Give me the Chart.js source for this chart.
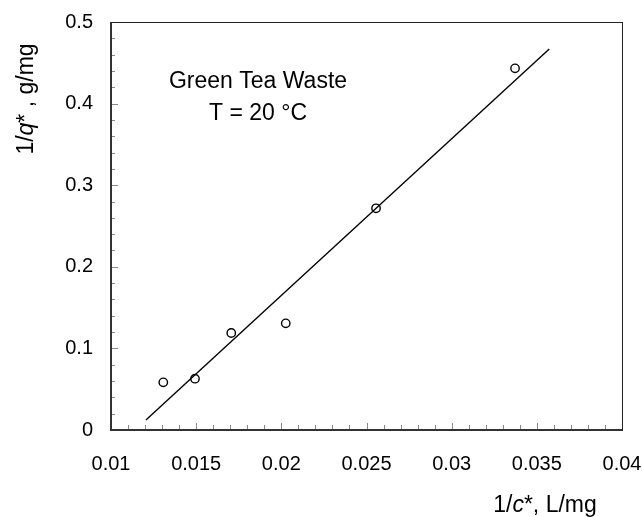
<!DOCTYPE html>
<html>
<head>
<meta charset="utf-8">
<script src="https://cdn.jsdelivr.net/npm/chart.js@4"></script>
<style>
  html, body { margin: 0; padding: 0; background: #fff; }
  #wrap { width: 642px; height: 517px; }
</style>
</head>
<body>
<div id="wrap"><canvas id="isoChart" width="642" height="517"></canvas></div>
<script>
// measured points (1/c*, 1/q*)
const invC = [0.01307, 0.01493, 0.01706, 0.02026, 0.02556, 0.03372];
const invQ = [0.0584, 0.0629, 0.1189, 0.1307, 0.2717, 0.4432];

// fitted line ends
const fitX = [0.01205, 0.03573];
const fitY = [0.0123, 0.4669];

const xTicks = [0.01, 0.015, 0.02, 0.025, 0.03, 0.035, 0.04];
const yTicks = [0, 0.1, 0.2, 0.3, 0.4, 0.5];

const FONT = 'Arial, "Liberation Sans", sans-serif';

// draws box, inward ticks, axis titles and the text in the plot
const decor = {
    id: 'decor',
    afterDraw(chart) {
        const ctx = chart.ctx;
        const a = chart.chartArea;
        const xs = chart.scales.x, ys = chart.scales.y;
        ctx.save();

        // ticks pointing inside
        ctx.strokeStyle = '#888';
        ctx.lineWidth = 1;
        for (let i = 0; i <= 30; i++) {
            const v = 0.01 + i * 0.001;
            const px = Math.round(xs.getPixelForValue(v)) + 0.5;
            const len = (i % 5 === 0) ? 7 : 5;
            ctx.beginPath();
            ctx.moveTo(px, a.bottom);
            ctx.lineTo(px, a.bottom - len);
            ctx.stroke();
        }
        for (let i = 0; i <= 25; i++) {
            const v = i * 0.02;
            const py = Math.round(ys.getPixelForValue(v)) + 0.5;
            const len = (i % 5 === 0) ? 7 : 4;
            ctx.beginPath();
            ctx.moveTo(a.left, py);
            ctx.lineTo(a.left + len, py);
            ctx.stroke();
        }

        // frame
        ctx.strokeStyle = '#222';
        ctx.lineWidth = 1;
        ctx.strokeRect(a.left + 0.5, a.top + 0.5, a.right - a.left, a.bottom - a.top);
        ctx.lineWidth = 2;
        ctx.strokeStyle = '#333';
        ctx.beginPath();
        ctx.moveTo(a.left, a.top);
        ctx.lineTo(a.left, a.bottom);
        ctx.lineTo(a.right, a.bottom);
        ctx.stroke();

        // text inside the plot
        ctx.fillStyle = '#000';
        ctx.font = '23px ' + FONT;
        ctx.textAlign = 'center';
        ctx.textBaseline = 'middle';
        ctx.fillText('Green Tea Waste', 258, 82);
        ctx.fillText('T = 20 °C', 258, 114);

        // axis titles with italic letter
        const parts = (pre, it, post) => [[pre, false], [it, true], [post, false]];
        const drawMixed = (segs, cx, cy, rot) => {
            ctx.save();
            ctx.translate(cx, cy);
            ctx.rotate(rot);
            let w = 0;
            segs.forEach(s => { ctx.font = (s[1] ? 'italic ' : '') + '23px ' + FONT; w += ctx.measureText(s[0]).width; });
            let x = -w / 2;
            ctx.textAlign = 'left';
            segs.forEach(s => {
                ctx.font = (s[1] ? 'italic ' : '') + '23px ' + FONT;
                ctx.fillText(s[0], x, 0);
                x += ctx.measureText(s[0]).width;
            });
            ctx.restore();
        };
        drawMixed(parts('1/', 'q', '* , g/mg'), 27, 99, -Math.PI / 2);
        drawMixed(parts('1/', 'c', '*, L/mg'), 545, 506, 0);

        ctx.restore();
    }
};

const ctx = document.getElementById('isoChart').getContext('2d');
const isoChart = new Chart(ctx, {
    type: 'scatter',
    data: {
        datasets: [
            {
                label: 'data',
                data: invC.map((x, i) => ({ x: x, y: invQ[i] })),
                showLine: false,
                pointRadius: 4.2,
                pointBorderWidth: 1.4,
                pointBorderColor: '#000',
                pointBackgroundColor: 'rgba(255,255,255,0)',
                order: 0
            },
            {
                label: 'fit',
                data: fitX.map((x, i) => ({ x: x, y: fitY[i] })),
                showLine: true,
                borderColor: '#000',
                borderWidth: 1.4,
                pointRadius: 0,
                order: 1
            }
        ]
    },
    options: {
        responsive: false,
        animation: false,
        layout: { padding: { left: 0, right: 20, top: 22, bottom: 0 } },
        plugins: {
            legend: { display: false },
            tooltip: { enabled: false }
        },
        scales: {
            x: {
                type: 'linear',
                min: 0.01,
                max: 0.04,
                afterBuildTicks: s => { s.ticks = xTicks.map(v => ({ value: v })); },
                afterFit: s => { s.height = 87; s.paddingLeft = 0; s.paddingRight = 0; },
                grid: { display: false, drawTicks: false },
                border: { display: false },
                ticks: {
                    color: '#000',
                    font: { size: 20, family: FONT },
                    padding: 22,
                    maxRotation: 0,
                    callback: v => String(v)
                }
            },
            y: {
                type: 'linear',
                min: 0,
                max: 0.5,
                afterBuildTicks: s => { s.ticks = yTicks.map(v => ({ value: v })); },
                afterFit: s => { s.width = 111; s.paddingTop = 0; s.paddingBottom = 0; },
                grid: { display: false, drawTicks: false },
                border: { display: false },
                ticks: {
                    color: '#000',
                    font: { size: 20, family: FONT },
                    padding: 18,
                    callback: v => String(v)
                }
            }
        }
    },
    plugins: [decor]
});
</script>
</body>
</html>
